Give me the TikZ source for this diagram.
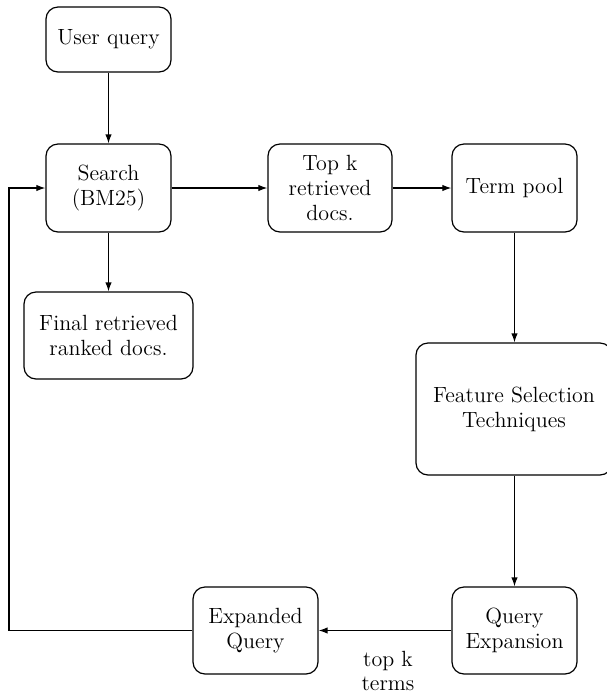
\documentclass[tikz,border=0pt]{standalone}
\usetikzlibrary{arrows.meta}
\begin{document}
\begin{tikzpicture}[x=0.5pt,y=-0.5pt,
  every node/.style={font=\fontsize{11}{12.4}\selectfont},
  box/.style={draw,rounded corners=6pt,align=center,inner sep=0pt,line width=0.6pt},
  conn/.style={-{Latex[length=4.5pt,width=3.2pt]},line width=0.6pt}]
\useasboundingbox (0,0) rectangle (607,693);
\node[box,minimum width=62.5pt,minimum height=32.5pt] (uq) at (108.5,39.5) {User query};
\node[box,minimum width=62.5pt,minimum height=44pt] (se) at (108.5,188) {Search\\(BM25)};
\node[box,minimum width=62pt,minimum height=44pt] (tk) at (330,188) {Top k\\retrieved\\docs.};
\node[box,minimum width=62.5pt,minimum height=44pt] (tp) at (514.5,188) {Term pool};
\node[box,minimum width=84.5pt,minimum height=43.5pt] (fr) at (108.5,335.5) {Final retrieved\\ranked docs.};
\node[box,minimum width=98pt,minimum height=66pt] (fs) at (514,409) {Feature Selection\\Techniques};
\node[box,minimum width=62.5pt,minimum height=43.5pt] (qe) at (514.5,630.5) {Query\\Expansion};
\node[box,minimum width=62.5pt,minimum height=43.5pt] (eq) at (255.5,630.5) {Expanded\\Query};
\node[align=center,inner sep=0pt] (lbl) at (388,671) {top k\\terms};
\coordinate (c1) at (9,630.5);
\coordinate (c2) at (9,188);
\draw[conn] (uq) -- (se);
\draw[conn] (se) -- (tk);
\draw[conn] (tk) -- (tp);
\draw[conn] (se) -- (fr);
\draw[conn] (tp.south) -- (tp.south |- fs.north);
\draw[conn] (fs.south -| qe.north) -- (qe.north);
\draw[conn] (qe) -- (eq);
\draw[conn] (eq.west) -- (c1) -- (c2) -- (se.west);
\end{tikzpicture}
\end{document}
